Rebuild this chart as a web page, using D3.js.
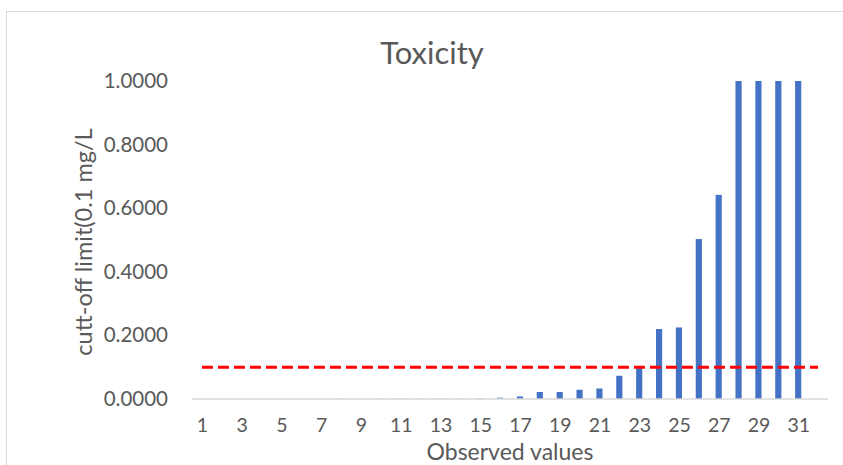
<!DOCTYPE html>
<html>
<head>
<meta charset="utf-8">
<script src="https://cdn.jsdelivr.net/npm/d3@7/dist/d3.min.js"></script>
<style>
  html, body { margin: 0; padding: 0; background: #fff; }
  svg { display: block; }
  text { font-family: Lato, "Open Sans", sans-serif; fill: #595959; }
</style>
</head>
<body>
<svg id="chart" width="843" height="465"></svg>
<script>
// Observation index 1..32
const categories = d3.range(1, 33);
// Toxicity per observation (cut-off limit, 0.1 mg/L); the last slot is empty
const toxicity = [0, 0, 0, 0, 0, 0, 0, 0.0005, 0.0005, 0.001, 0.001, 0.001, 0.001, 0.001, 0.0015, 0.004,
                  0.008, 0.022, 0.022, 0.029, 0.033, 0.073, 0.097, 0.220, 0.225, 0.503, 0.642,
                  1.0, 1.0, 1.0, 1.0, null];
// Reference limit drawn across every observation
const limit = categories.map(() => 0.1);
const yTicks = [0, 0.2, 0.4, 0.6, 0.8, 1.0];
const xTickLabels = categories.filter(c => c % 2 === 1);

const svg = d3.select("#chart");
const margin = { left: 192, right: 15, top: 81, bottom: 66 };
const W = 843, H = 465;

// chart frame
svg.append("rect")
  .attr("x", 6.5).attr("y", 11.5)
  .attr("width", 900).attr("height", 600)
  .attr("fill", "none").attr("stroke", "#D9D9D9").attr("stroke-width", 1);

const x = d3.scaleBand()
  .domain(categories)
  .range([margin.left, W - margin.right])
  .paddingInner(0.69).paddingOuter(0.345);

const xc = d3.scalePoint()
  .domain(categories)
  .range([margin.left, W - margin.right])
  .padding(0.5);

const y = d3.scaleLinear().domain([0, 1]).range([H - margin.bottom, margin.top]);

// y tick labels
const yAxis = d3.axisLeft(y).tickValues(yTicks).tickFormat(d3.format(".4f")).tickSize(0).tickPadding(24);
const gy = svg.append("g").attr("transform", `translate(${margin.left},0)`).call(yAxis);
gy.select(".domain").remove();
gy.selectAll("text").style("font-size", "20.5px").attr("fill", "#595959");

// bars
svg.append("g").selectAll("rect")
  .data(categories.map((c, i) => ({ c, v: toxicity[i] })).filter(d => d.v !== null))
  .join("rect")
  .attr("x", d => x(d.c))
  .attr("width", x.bandwidth())
  .attr("y", d => y(d.v))
  .attr("height", d => y(0) - y(d.v))
  .attr("fill", "#4472C4");

// x axis
const xAxis = d3.axisBottom(xc).tickValues(xTickLabels).tickSize(0).tickPadding(19.5);
const gx = svg.append("g").attr("transform", `translate(0,${y(0)})`).call(xAxis);
gx.select(".domain").attr("stroke", "#D9D9D9").attr("stroke-width", 1.5)
  .attr("d", `M${margin.left},0H${W - margin.right}`);
gx.selectAll("text").style("font-size", "19.5px").attr("fill", "#595959");

// limit line
svg.append("path")
  .datum(limit)
  .attr("fill", "none")
  .attr("stroke", "#FF0000")
  .attr("stroke-width", 3)
  .attr("stroke-dasharray", "11,5")
  .attr("d", d3.line().x((d, i) => xc(categories[i])).y(d => y(d)));

// titles
svg.append("text").attr("x", 432).attr("y", 64)
  .attr("text-anchor", "middle").style("font-size", "31px").text("Toxicity");

svg.append("text").attr("x", 510).attr("y", 459.5)
  .attr("text-anchor", "middle").style("font-size", "23px").text("Observed values");

svg.append("text")
  .attr("transform", `translate(92,${(y(0) + y(1)) / 2 + 2}) rotate(-90)`)
  .attr("text-anchor", "middle").style("font-size", "23.5px").text("cutt-off limit(0.1 mg/L");
</script>
</body>
</html>
